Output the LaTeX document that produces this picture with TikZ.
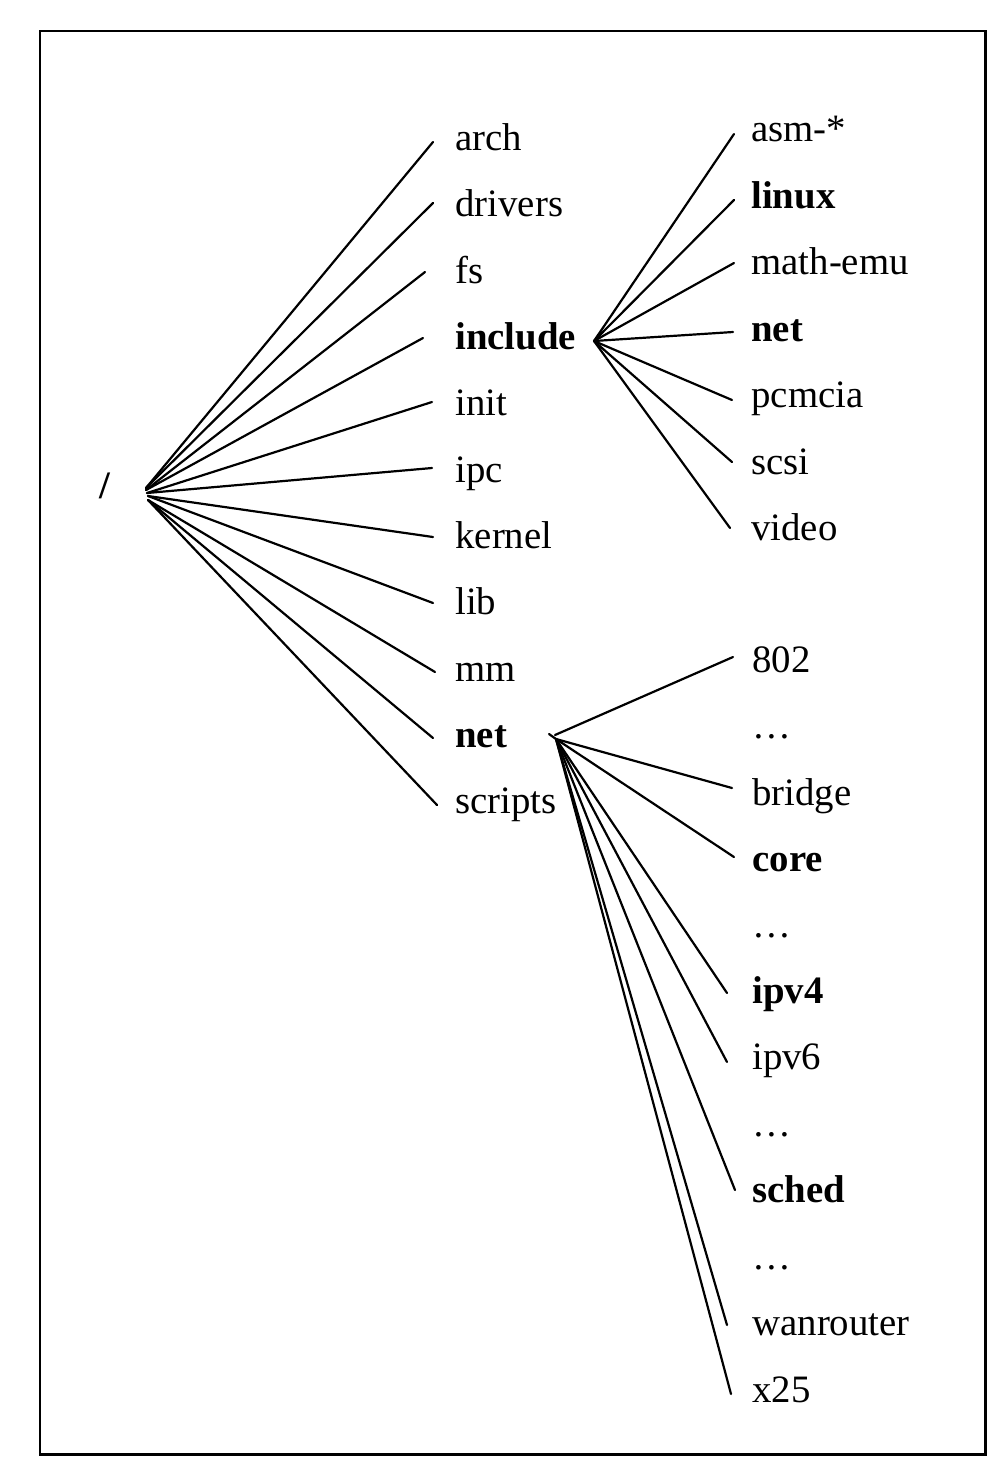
\documentclass[tikz,border=0pt]{standalone}
\usepackage{fontspec}
\setmainfont{Liberation Serif}
\begin{document}
\begin{tikzpicture}[x=0.5pt,y=-0.5pt,
  lbl/.style={anchor=base west, inner sep=0pt, font=\fontsize{19.4}{23}\selectfont},
  blbl/.style={anchor=base west, inner sep=0pt, font=\fontsize{19.4}{23}\selectfont\bfseries},
  edge/.style={line width=1.1pt, line cap=round}]
\useasboundingbox (0,0) rectangle (1004,1474);
\draw[line width=1.4pt] (40,31) rectangle (985.5,1454.5);

% root
\node[blbl] (root) at (99,498) {/};
\coordinate (rA) at (146,488);
\coordinate (rB) at (146,490);
\coordinate (rC) at (147,493);
\coordinate (rD) at (148,496);
\coordinate (rE) at (148,500);

% first level
\node[lbl]  (arch)    at (455,150) {arch};
\node[lbl]  (drivers) at (455,216) {drivers};
\node[lbl]  (fs)      at (455,283) {fs};
\node[blbl] (include) at (455,349) {include};
\node[lbl]  (init)    at (455,415) {init};
\node[lbl]  (ipc)     at (455,482) {ipc};
\node[lbl]  (kernel)  at (455,548) {kernel};
\node[lbl]  (lib)     at (455,614) {lib};
\node[lbl]  (mm)      at (455,681) {mm};
\node[blbl] (net)     at (455,747) {net};
\node[lbl]  (scripts) at (455,813) {scripts};

\coordinate (arch-e)    at (433,142);
\coordinate (drivers-e) at (433,203);
\coordinate (fs-e)      at (425,272);
\coordinate (include-e) at (423,338);
\coordinate (init-e)    at (432,402);
\coordinate (ipc-e)     at (432,468);
\coordinate (kernel-e)  at (433,537);
\coordinate (lib-e)     at (433,603);
\coordinate (mm-e)      at (435,672);
\coordinate (net-e)     at (433,738);
\coordinate (scripts-e) at (437,805);

\draw[edge] (rA) -- (arch-e);
\draw[edge] (rA) -- (drivers-e);
\draw[edge] (rB) -- (fs-e);
\draw[edge] (rB) -- (include-e);
\draw[edge] (rC) -- (init-e);
\draw[edge] (rC) -- (ipc-e);
\draw[edge] (rD) -- (kernel-e);
\draw[edge] (rD) -- (lib-e);
\draw[edge] (rE) -- (mm-e);
\draw[edge] (rE) -- (net-e);
\draw[edge] (rE) -- (scripts-e);

% include children
\coordinate (incH) at (594,341);
\node[lbl]  (asm)    at (751,141) {asm-*};
\node[blbl] (linux)  at (751,208) {linux};
\node[lbl]  (mathemu) at (751,274) {math-emu};
\node[blbl] (incnet) at (751,341) {net};
\node[lbl]  (pcmcia) at (751,407) {pcmcia};
\node[lbl]  (scsi)   at (751,474) {scsi};
\node[lbl]  (video)  at (751,540) {video};

\coordinate (asm-e)     at (734,134);
\coordinate (linux-e)   at (734,200);
\coordinate (mathemu-e) at (734,263);
\coordinate (incnet-e)  at (733,332);
\coordinate (pcmcia-e)  at (732,400);
\coordinate (scsi-e)    at (732,462);
\coordinate (video-e)   at (730,528);

\foreach \e in {asm-e,linux-e,mathemu-e,incnet-e,pcmcia-e,scsi-e,video-e}
  \draw[edge] (incH) -- (\e);

% net children
\coordinate (netH) at (555,735);
\coordinate (netH2) at (556,739);
\coordinate (netT) at (549,734);
\draw[edge] (netT) -- (netH2);

\node[lbl]  (n802)   at (752,672) {802};
\node[lbl]  (ndots1) at (752,738) {…};
\node[lbl]  (bridge) at (752,805) {bridge};
\node[blbl] (core)   at (752,871) {core};
\node[lbl]  (ndots2) at (752,937) {…};
\node[blbl] (ipv4)   at (752,1003) {ipv4};
\node[lbl]  (ipv6)   at (752,1069) {ipv6};
\node[lbl]  (ndots3) at (752,1136) {…};
\node[blbl] (sched)  at (752,1202) {sched};
\node[lbl]  (ndots4) at (752,1269) {…};
\node[lbl]  (wanrouter) at (752,1335) {wanrouter};
\node[lbl]  (x25)    at (752,1402) {x25};

\coordinate (n802-e)   at (733,657);
\coordinate (bridge-e) at (732,788);
\coordinate (core-e)   at (734,857);
\coordinate (ipv4-e)   at (727,993);
\coordinate (ipv6-e)   at (727,1062);
\coordinate (sched-e)  at (735,1190);
\coordinate (wan-e)    at (727,1325);
\coordinate (x25-e)    at (731,1394);

\draw[edge] (netH) -- (n802-e);
\foreach \e in {bridge-e,core-e,ipv4-e,ipv6-e,sched-e,wan-e,x25-e}
  \draw[edge] (netH2) -- (\e);
\end{tikzpicture}
\end{document}
